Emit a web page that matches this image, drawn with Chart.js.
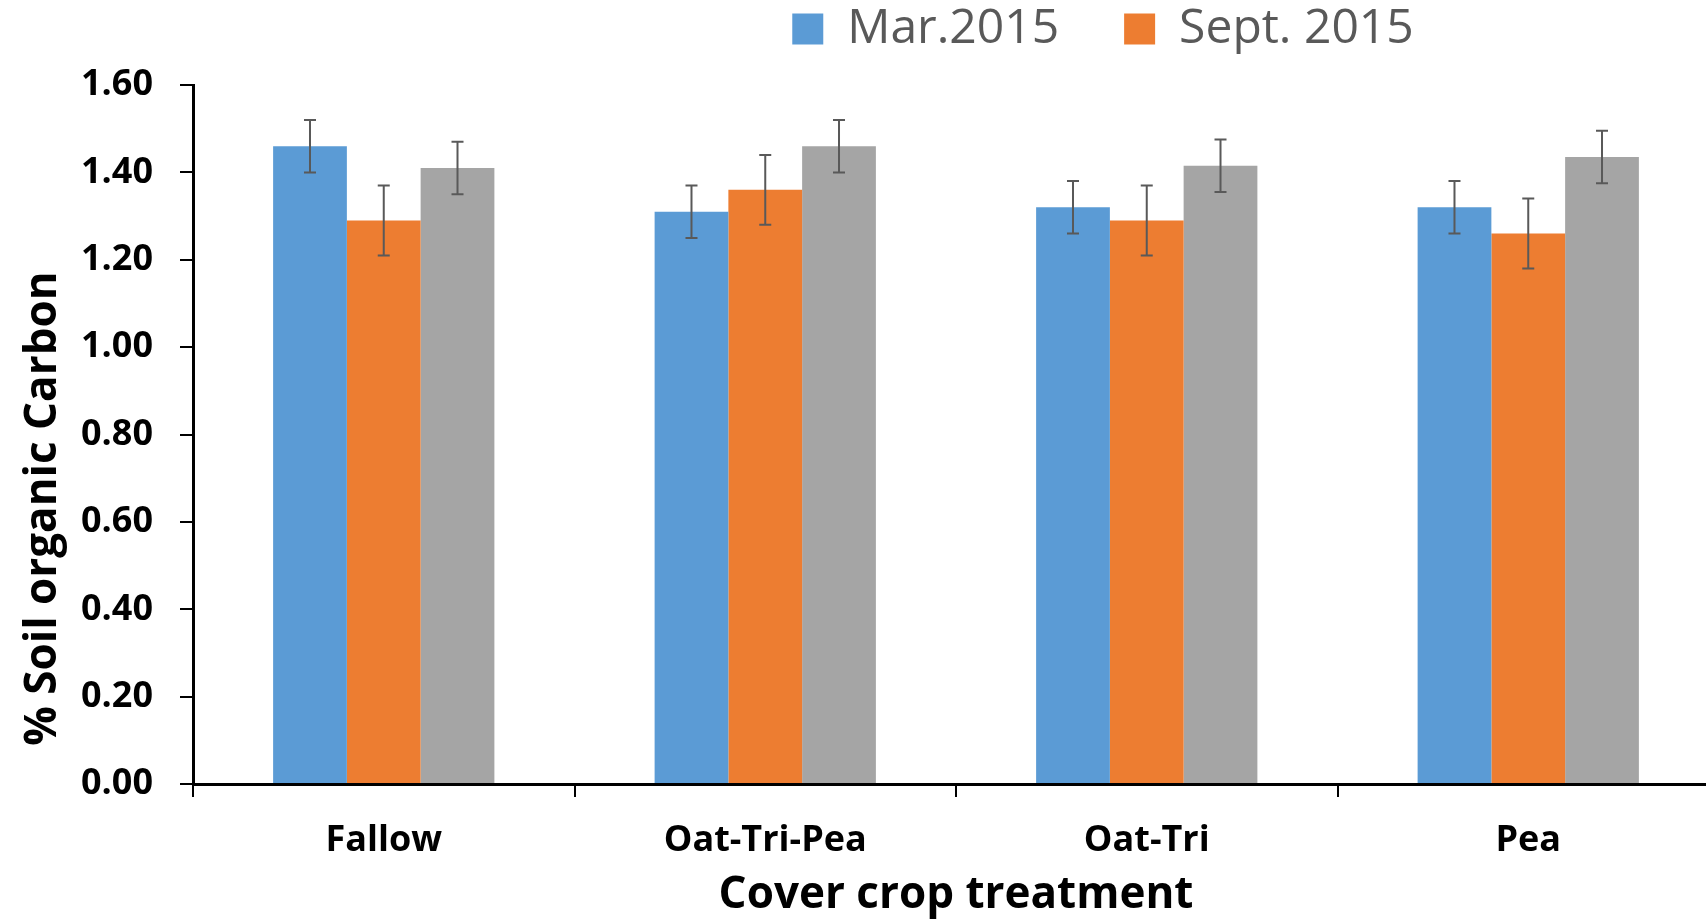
<!DOCTYPE html>
<html>
<head>
<meta charset="utf-8">
<script src="https://cdn.jsdelivr.net/npm/chart.js@4.4.1/dist/chart.umd.min.js"></script>
<style>
  html, body { margin: 0; padding: 0; overflow: hidden; background: #fff; }
  #wrap { width: 2206px; height: 922px; }
</style>
</head>
<body>
<div id="wrap"><canvas id="socChart" width="2206" height="922"></canvas></div>
<script>
// data
const treatments = ['Fallow', 'Oat-Tri-Pea', 'Oat-Tri', 'Pea'];
const mar2015 = [1.46, 1.31, 1.32, 1.32];
const sept2015 = [1.29, 1.36, 1.29, 1.26];
const third = [1.41, 1.46, 1.415, 1.435];
const marErr = [0.06, 0.06, 0.06, 0.06];
const septErr = [0.08, 0.08, 0.08, 0.08];
const thirdErr = [0.06, 0.06, 0.06, 0.06];
const yTicks = [0, 0.2, 0.4, 0.6, 0.8, 1.0, 1.2, 1.4, 1.6];
const yTitleText = '% Soil organic Carbon';

Chart.defaults.font.family = '"Open Sans", sans-serif';

// error bars drawn through the y scale
const errorBars = {
    id: 'errorBars',
    afterDatasetsDraw(chart) {
        const ctx = chart.ctx;
        const y = chart.scales.y;
        ctx.save();
        ctx.strokeStyle = '#595959';
        ctx.lineWidth = 2;
        chart.data.datasets.forEach((ds, i) => {
            const meta = chart.getDatasetMeta(i);
            meta.data.forEach((bar, j) => {
                const v = ds.data[j];
                const e = ds.errors[j];
                const top = y.getPixelForValue(v + e);
                const bot = y.getPixelForValue(v - e);
                ctx.beginPath();
                ctx.moveTo(bar.x, top);
                ctx.lineTo(bar.x, bot);
                ctx.moveTo(bar.x - 6, top);
                ctx.lineTo(bar.x + 6, top);
                ctx.moveTo(bar.x - 6, bot);
                ctx.lineTo(bar.x + 6, bot);
                ctx.stroke();
            });
        });
        ctx.restore();
    }
};

// y title sits a bit below the middle of the axis in the original
const yTitle = {
    id: 'yTitle',
    afterDraw(chart) {
        const y = chart.scales.y;
        const ctx = chart.ctx;
        ctx.save();
        ctx.translate(43, y.top + (y.bottom - y.top) * 0.606);
        ctx.rotate(-Math.PI / 2);
        ctx.font = 'bold 44px "Open Sans", sans-serif';
        ctx.fillStyle = '#000';
        ctx.textAlign = 'center';
        ctx.textBaseline = 'middle';
        ctx.fillText(yTitleText, 0, 0);
        ctx.restore();
    }
};

new Chart(document.getElementById('socChart').getContext('2d'), {
    type: 'bar',
    data: {
        labels: treatments,
        datasets: [{
            label: 'Mar.2015',
            data: mar2015,
            errors: marErr,
            backgroundColor: '#5B9BD5'
        }, {
            label: 'Sept. 2015',
            data: sept2015,
            errors: septErr,
            backgroundColor: '#ED7D31'
        }, {
            label: '',
            data: third,
            errors: thirdErr,
            backgroundColor: '#A5A5A5'
        }]
    },
    options: {
        responsive: false,
        animation: false,
        categoryPercentage: 0.58,
        barPercentage: 1.0,
        layout: {
            padding: { top: -60, left: 0, right: 0, bottom: 0 }
        },
        plugins: {
            legend: {
                position: 'top',
                labels: {
                    boxWidth: 31,
                    boxHeight: 31,
                    padding: 65,
                    color: '#595959',
                    font: { size: 48 },
                    filter: item => item.text !== ''
                }
            },
            // empty spacer between legend and plot
            title: {
                display: true,
                text: '',
                weight: 500,
                font: { size: 10 },
                padding: { top: 0, bottom: 10 }
            },
            tooltip: { enabled: false }
        },
        scales: {
            x: {
                afterFit: scale => { scale.height = 138; },
                grid: {
                    drawOnChartArea: false,
                    tickLength: 13,
                    color: '#000',
                    lineWidth: 2
                },
                border: { color: '#000', width: 3 },
                ticks: {
                    color: '#000',
                    padding: 22,
                    font: { size: 36, weight: 'bold' }
                },
                title: {
                    display: true,
                    text: 'Cover crop treatment',
                    color: '#000',
                    font: { size: 44, weight: 'bold' },
                    padding: { top: 0, bottom: 0 }
                }
            },
            y: {
                min: 0,
                max: 1.6,
                afterBuildTicks: scale => {
                    scale.ticks = yTicks.map(v => ({ value: v }));
                },
                afterFit: scale => { scale.width = 193; },
                grid: {
                    drawOnChartArea: false,
                    tickLength: 13,
                    color: '#000',
                    lineWidth: 2
                },
                border: { color: '#000', width: 3 },
                ticks: {
                    color: '#000',
                    padding: 27,
                    font: { size: 36, weight: 'bold' },
                    callback: v => Number(v).toFixed(2)
                }
            },
            // blank right axis that keeps the plot the same width as the original
            y2: {
                position: 'right',
                display: true,
                grid: { display: false },
                border: { display: false },
                ticks: { display: false },
                afterFit: scale => { scale.width = 487; }
            }
        }
    },
    plugins: [errorBars, yTitle]
});
</script>
</body>
</html>
